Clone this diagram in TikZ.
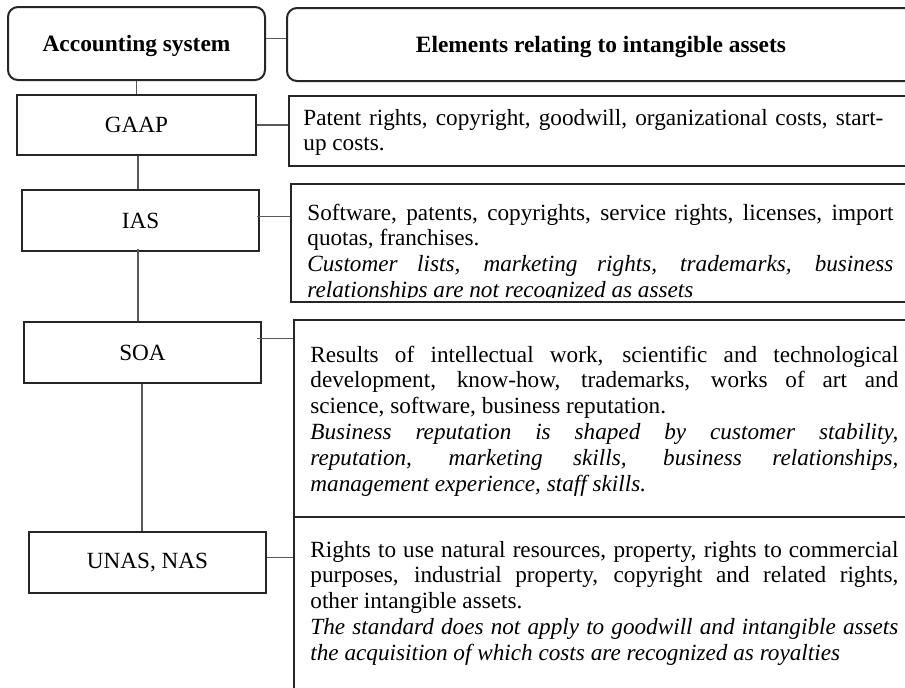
\documentclass[tikz,border=0pt]{standalone}
\usepackage{fontspec}
\setmainfont{Liberation Serif}
\usetikzlibrary{calc}
\tolerance=9999
\hbadness=10000
\hyphenpenalty=10000
\begin{document}
\begin{tikzpicture}[x=0.5pt,y=-0.5pt,
            sysbox/.style={draw=black!85,line width=1pt,inner sep=0pt,font=\fontsize{11.6}{12.9}\selectfont},
            headbox/.style={sysbox,rounded corners=5pt,text depth=0pt,font=\fontsize{11.7}{12.9}\selectfont\bfseries},
            descbox/.style={draw=black!85,line width=1pt,inner sep=0pt,anchor=north west},
            desctext/.style={inner sep=0pt,anchor=base west,align=justify,text width=294pt,font=\fontsize{11.6}{12.9}\selectfont},
            link/.style={draw=black!65,line width=0.7pt}]
            \useasboundingbox (0,0) rectangle (905,687);
            \clip (0,0) rectangle (905,687);
            % Header row
            \node[headbox,minimum width=128.5pt,minimum height=36.5pt] (acc) at (136.5,43.5) {Accounting system};
            \node[headbox,anchor=north west,minimum width=314pt,minimum height=36.5pt] (head) at (286,7) {Elements relating to intangible assets};
            % Accounting systems
            \node[sysbox,minimum width=119.5pt,minimum height=30pt] (gaap) at (136.5,125) {GAAP};
            \node[sysbox,minimum width=118.5pt,minimum height=30.5pt] (ias) at (140.5,220.5) {IAS};
            \node[sysbox,minimum width=118.5pt,minimum height=30.5pt] (soa) at (142.5,352.5) {SOA};
            \node[sysbox,minimum width=118.5pt,minimum height=30.5pt] (unas) at (147.5,562.5) {UNAS, NAS};
            % Description boxes
            \node[descbox,minimum width=313.5pt,minimum height=35pt] (gaapd) at (288,95) {};
            \node[descbox,minimum width=312.5pt,minimum height=59pt] (iasd) at (290,183) {};
            \node[descbox,minimum width=311pt,minimum height=98.5pt] (soad) at (293,319) {};
            \node[descbox,minimum width=311pt,minimum height=92pt] (unasd) at (293,516) {};
            % Description texts
            \node[desctext,text width=290pt] (gaapt) at (303,125) {Patent rights, copyright, goodwill, organizational costs, start-\linebreak up costs.};
            \begin{scope}
                \clip (290,183) rectangle (915,297);
                \node[desctext,text width=293pt] (iast) at (307,220) {Software, patents, copyrights, service rights, licenses, import\linebreak quotas, franchises.\par
                    \textit{Customer lists, marketing rights, trademarks, business\linebreak relationships are not recognized as assets}};
            \end{scope}
            \node[desctext] (soat) at (310,362) {Results of intellectual work, scientific and technological\linebreak development, know-how, trademarks, works of art and\linebreak science, software, business reputation.\par
                \textit{Business reputation is shaped by customer stability,\linebreak reputation, marketing skills, business relationships,\linebreak management experience, staff skills.}};
            \node[desctext] (unast) at (310,557) {Rights to use natural resources, property, rights to commercial\linebreak purposes, industrial property, copyright and related rights,\linebreak other intangible assets.\par
                \textit{The standard does not apply to goodwill and intangible assets\linebreak the acquisition of which costs are recognized as royalties}};
            % Link ends
            \coordinate (g1) at ($(gaap.south)+(1.5,0)$);
            \coordinate (i1) at ($(ias.south)+(-2.5,-3)$);
            \coordinate (s1) at ($(soa.south)+(-0.5,0)$);
            \coordinate (a2) at ($(acc.east)+(0,-5)$);
            \coordinate (i2) at ($(ias.east)+(-3,-4)$);
            \coordinate (s2) at ($(soa.east)+(-5,-14)$);
            \coordinate (u2) at ($(unas.east)+(0,-5)$);
            % Vertical links
            \draw[link] (acc) -- (gaap);
            \draw[link] (g1) -- (g1 |- ias.north);
            \draw[link] (i1) -- (i1 |- soa.north);
            \draw[link] (s1) -- (s1 |- unas.north);
            % Horizontal links
            \draw[link] (a2) -- (a2 -| head.west);
            \draw[link] (gaap.east) -- (gaap.east -| gaapd.west);
            \draw[link] (i2) -- (i2 -| iasd.west);
            \draw[link] (s2) -- (s2 -| soad.west);
            \draw[link] (u2) -- (u2 -| unasd.west);
        \end{tikzpicture}
\end{document}
